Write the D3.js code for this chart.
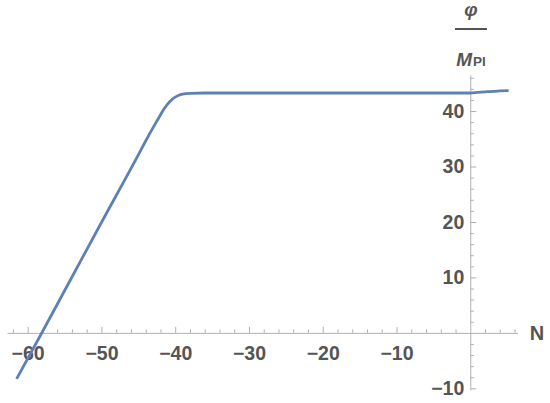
<!DOCTYPE html>
<html>
<head>
<meta charset="utf-8">
<script src="https://cdn.jsdelivr.net/npm/d3@7"></script>
<style>
  html, body { margin: 0; padding: 0; background: #fff; }
  svg { display: block; }
</style>
</head>
<body>
<svg id="chart" width="550" height="403"></svg>
<script>
// ---- data ----
const nValues   = [-61.5, -58, -55, -50, -45, -44, -43, -42, -41.5, -41, -40.5, -40, -39.5, -39, -38, -36, -30, -20, -10, 0, 1, 2, 3, 4, 5.2];
const phiValues = [-8.3, 0.2, 7.6, 19.9, 32.1, 34.6, 37.0, 39.3, 40.4, 41.3, 42.0, 42.5, 42.85, 43.05, 43.2, 43.25, 43.25, 43.25, 43.25, 43.25, 43.35, 43.45, 43.55, 43.62, 43.7];
const xTickValues = [-60, -50, -40, -30, -20, -10];
const xTickLabels = ["−60", "−50", "−40", "−30", "−20", "−10"];
const yTickValues = [-10, 10, 20, 30, 40];
const yTickLabels = ["−10", "10", "20", "30", "40"];
const xMinorTicks = [-62, -58, -56, -54, -52, -48, -46, -44, -42, -38, -36, -34, -32, -28, -26, -24, -22, -18, -16, -14, -12, -8, -6, -4, -2, 2, 4, 6];
const yMinorTicks = [-8, -6, -4, -2, 2, 4, 6, 8, 12, 14, 16, 18, 22, 24, 26, 28, 32, 34, 36, 38, 42, 44, 46];
const xAxisLabel = "N";

const svg = d3.select("#chart");
const x = d3.scaleLinear().domain([-62.8, 6.4]).range([7, 517.5]);
const y = d3.scaleLinear().domain([-10.3, 46.5]).range([390, 75]);

const axisColor = "#b0b0b0";
const textColor = "#555555";
const font = "'Liberation Sans', Arial, sans-serif";

// x axis (major ticks upward, labels below)
const gx = svg.append("g").attr("transform", `translate(0,${y(0)})`)
  .call(d3.axisBottom(x).tickValues(xTickValues)
    .tickFormat((d, i) => xTickLabels[i])
    .tickSizeInner(-6).tickSizeOuter(0).tickPadding(13));
// x minor ticks
const gxm = svg.append("g").attr("transform", `translate(0,${y(0)})`)
  .call(d3.axisBottom(x).tickValues(xMinorTicks).tickFormat("")
    .tickSizeInner(-3.5).tickSizeOuter(0));
gxm.select(".domain").remove();

// y axis (ticks pointing right, labels left)
const gy = svg.append("g").attr("transform", `translate(${x(0)},0)`)
  .call(d3.axisLeft(y).tickValues(yTickValues)
    .tickFormat((d, i) => yTickLabels[i])
    .tickSizeInner(-6).tickSizeOuter(0).tickPadding(6));
const gym = svg.append("g").attr("transform", `translate(${x(0)},0)`)
  .call(d3.axisLeft(y).tickValues(yMinorTicks).tickFormat("")
    .tickSizeInner(-3.5).tickSizeOuter(0));
gym.select(".domain").remove();

svg.selectAll(".domain, .tick line").attr("stroke", axisColor).attr("stroke-width", 1);
svg.selectAll(".tick text")
  .attr("fill", textColor)
  .style("font-family", font)
  .style("font-size", "19.5px")
  .style("font-weight", "bold");

// curve
const data = nValues.map((n, i) => ({ n, v: phiValues[i] }));
const line = d3.line().x(d => x(d.n)).y(d => y(d.v)).curve(d3.curveMonotoneX);
svg.append("path").datum(data)
  .attr("d", line)
  .attr("fill", "none")
  .attr("stroke", "#5E81B5")
  .attr("stroke-width", 2.8)
  .attr("stroke-linejoin", "round")
  .attr("stroke-linecap", "butt");

// axis labels
svg.append("text")
  .attr("x", 537).attr("y", y(0))
  .attr("dy", "0.35em")
  .attr("text-anchor", "middle")
  .attr("fill", textColor)
  .style("font-family", font).style("font-size", "20px").style("font-weight", "bold")
  .text(xAxisLabel);

const lx = 471;
svg.append("text")
  .attr("x", lx).attr("y", 16)
  .attr("text-anchor", "middle")
  .attr("fill", textColor)
  .style("font-family", font).style("font-size", "19px")
  .style("font-weight", "bold").style("font-style", "italic")
  .text("φ");
svg.append("line")
  .attr("x1", 455).attr("x2", 487).attr("y1", 29).attr("y2", 29)
  .attr("stroke", textColor).attr("stroke-width", 2);
const mt = svg.append("text")
  .attr("x", lx).attr("y", 66)
  .attr("text-anchor", "middle")
  .attr("fill", textColor)
  .style("font-family", font).style("font-size", "19px").style("font-weight", "bold");
mt.append("tspan").style("font-style", "italic").text("M");
mt.append("tspan").style("font-size", "13.5px").attr("dx", "1").text("Pl");
</script>
</body>
</html>
